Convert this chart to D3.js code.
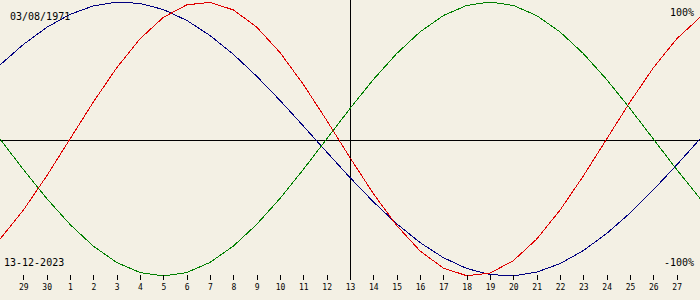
<!DOCTYPE html>
<html><head><meta charset="utf-8">
<script src="https://cdn.jsdelivr.net/npm/d3@7"></script>
<style>
html,body{margin:0;padding:0;background:#f3f0e4;}
svg{display:block;}
text{font-family:"DejaVu Sans Mono",monospace;fill:#000;}
</style></head><body>
<svg id="c" width="700" height="300"></svg>
<script>
// Day labels for each day index (0..30); index 15 is the selected date 13-12-2023
const dayLabels = ["28","29","30","1","2","3","4","5","6","7","8","9","10","11","12","13","14","15","16","17","18","19","20","21","22","23","24","25","26","27","28"];
const physical = [-0.7308,-0.5196,-0.2698,0,0.2698,0.5196,0.7308,0.8879,0.9791,0.9977,0.9423,0.8170,0.6311,0.3984,0.1362,-0.1362,-0.3984,-0.6311,-0.8170,-0.9423,-0.9977,-0.9791,-0.8879,-0.7308,-0.5196,-0.2698,0,0.2698,0.5196,0.7308,0.8879];
const emotional = [0,-0.2225,-0.4339,-0.6235,-0.7818,-0.9010,-0.9749,-1,-0.9749,-0.9010,-0.7818,-0.6235,-0.4339,-0.2225,0,0.2225,0.4339,0.6235,0.7818,0.9010,0.9749,1,0.9749,0.9010,0.7818,0.6235,0.4339,0.2225,0,-0.2225,-0.4339];
const intellectual = [0.5406,0.6901,0.8146,0.9096,0.9718,0.9989,0.9898,0.9450,0.8660,0.7557,0.6182,0.4582,0.2817,0.0951,-0.0951,-0.2817,-0.4582,-0.6182,-0.7557,-0.8660,-0.9450,-0.9898,-0.9989,-0.9718,-0.9096,-0.8146,-0.6901,-0.5406,-0.3717,-0.1893,0];
const tickIdx = d3.range(1, 30);
const birthDate = "03/08/1971";
const selDate = "13-12-2023";
const topLabel = "100%", bottomLabel = "-100%";

const svg = d3.select("#c");
const x = d3.scaleLinear().domain([0, 30]).range([0, 700]);
const y = d3.scaleLinear().domain([-1, 1]).range([276, 2]);

// axes lines
svg.append("line").attr("x1",0).attr("x2",700).attr("y1",140.5).attr("y2",140.5)
  .attr("stroke","#000").attr("shape-rendering","crispEdges");
svg.append("line").attr("x1",x(15)+0.5).attr("x2",x(15)+0.5).attr("y1",0).attr("y2",280)
  .attr("stroke","#000").attr("shape-rendering","crispEdges");

const line = d3.line().x((d,i)=>x(i)).y(d=>y(d));
[[intellectual,"#000080"],[physical,"#e00000"],[emotional,"#008000"]].forEach(([s,c])=>{
  svg.append("path").datum(s).attr("d",line).attr("fill","none")
    .attr("stroke",c).attr("stroke-width",1).attr("shape-rendering","crispEdges");
});

const axis = d3.axisBottom(x).tickValues(tickIdx).tickFormat(i=>dayLabels[i]).tickSize(5).tickPadding(4);
const g = svg.append("g").attr("transform","translate(0,275)").call(axis);
g.select(".domain").remove();
g.selectAll(".tick line").attr("stroke","#000").attr("shape-rendering","crispEdges");
g.selectAll(".tick text").attr("font-family","DejaVu Sans Mono").attr("font-size","8px").attr("fill","#000");

svg.append("text").attr("x",10).attr("y",20).attr("font-size","10px").text(birthDate);
svg.append("text").attr("x",4).attr("y",266).attr("font-size","10px").text(selDate);
svg.append("text").attr("x",694).attr("y",16).attr("text-anchor","end").attr("font-size","10px").text(topLabel);
svg.append("text").attr("x",694).attr("y",266).attr("text-anchor","end").attr("font-size","10px").text(bottomLabel);
</script></body></html>
